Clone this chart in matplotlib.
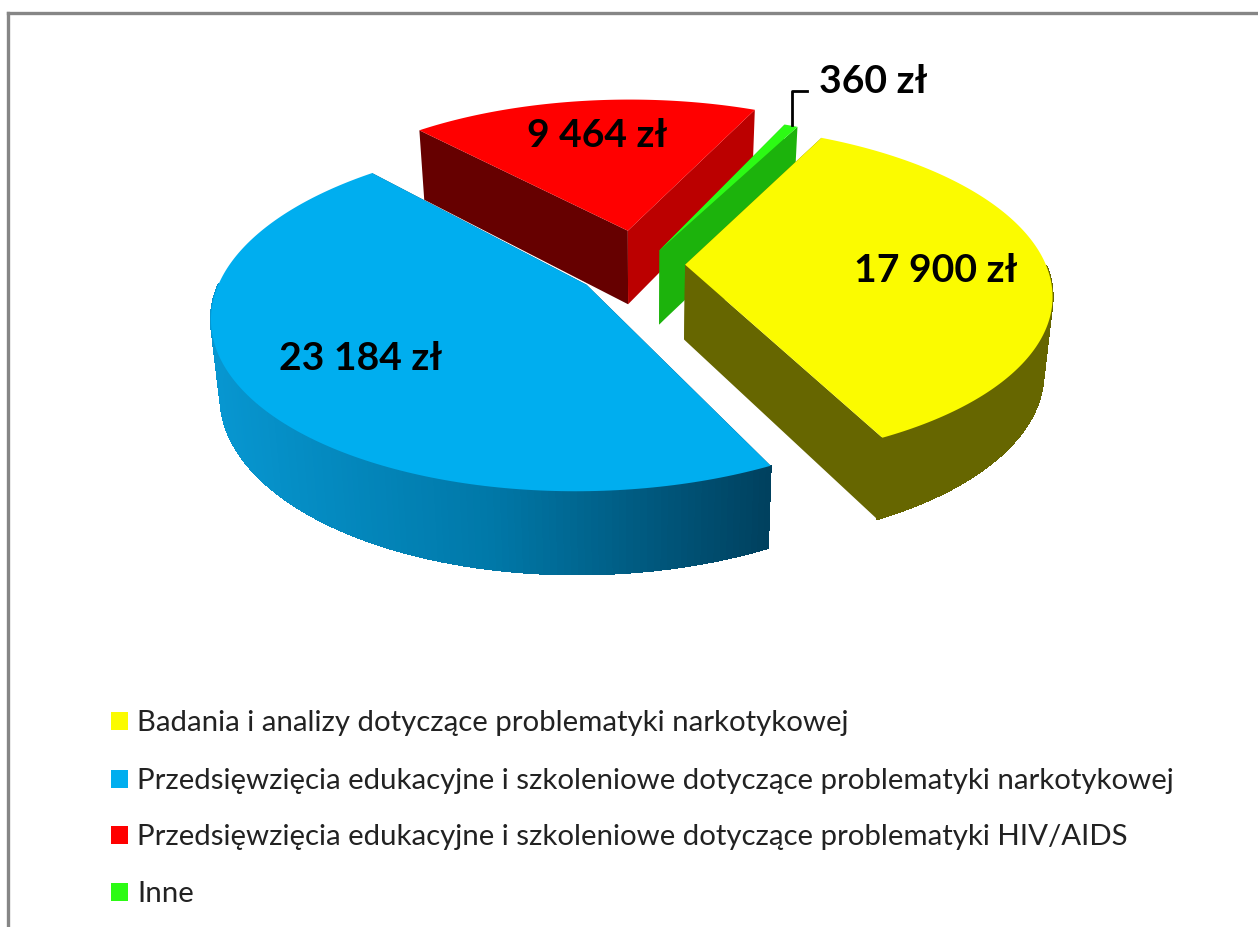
import numpy as np
import matplotlib
matplotlib.use("Agg")
import matplotlib.pyplot as plt
from matplotlib.patches import Polygon, Rectangle
from matplotlib.collections import PolyCollection
from matplotlib.colors import to_rgb

categories = ["Badania i analizy dotyczące problematyki narkotykowej",
              "Przedsięwzięcia edukacyjne i szkoleniowe dotyczące problematyki narkotykowej",
              "Przedsięwzięcia edukacyjne i szkoleniowe dotyczące problematyki HIV/AIDS",
              "Inne"]
values = [17900, 23184, 9464, 360]
top_colors = ["#FBFB00", "#00AEEF", "#FF0000", "#2CFB14"]
start_cut_colors = ["#666600", "#004060", "#660000", "#1CB30C"]
end_cut_colors = ["#666600", "#004060", "#BB0000", "#1CB30C"]
rim_colors = ["#666600", "#004060", "#660000", "#1CB30C"]
explode = [(0.125, 0.02), (-0.145, -0.10), (-0.035, 0.235), (0.055, 0.11)]
label_xy = [(936, 268), (361, 356), (597, 132), (873, 78)]

W, H = 1258, 927
CX, CY, A, B, P, DEPTH, KX = 640, 268, 362, 165, 0.17, 75, 0.022
START = 27.0

def project(u, v, drop=0.0):
    w = 1 + P * v
    return (CX + A * u / w * (1 - KX * drop / DEPTH), CY - B * v / w + drop / np.sqrt(w))

fig = plt.figure(figsize=(W / 100, H / 100), dpi=100)
ax = fig.add_axes([0, 0, 1, 1])
ax.set_xlim(0, W)
ax.set_ylim(H, 0)
ax.axis("off")
plt.rcParams["font.family"] = ["Lato", "DejaVu Sans"]

ax.plot([8, 8], [927, 12.5], color="#868686", lw=2.4, solid_capstyle="projecting")
ax.plot([8, W], [12.5, 12.5], color="#868686", lw=2.4, solid_capstyle="projecting")

fracs = np.array(values) / sum(values)
edges = START + 360 * np.concatenate([[0], np.cumsum(fracs)])
draw_order = [2, 3, 0, 1]

for i in draw_order:
    th = np.radians(np.linspace(edges[i], edges[i + 1], 181))
    ox, oy = explode[i]
    u = ox + np.sin(th)
    v = oy + np.cos(th)
    rx, ry = project(u, v)
    bx, by = project(u, v, DEPTH)
    ax0, ay0 = project(ox, oy)
    ax1, ay1 = project(ox, oy, DEPTH)
    # radial cut faces
    ax.add_patch(Polygon([(ax0, ay0), (rx[0], ry[0]), (bx[0], by[0]), (ax1, ay1)],
                         fc=start_cut_colors[i], ec="none"))
    ax.add_patch(Polygon([(ax0, ay0), (rx[-1], ry[-1]), (bx[-1], by[-1]), (ax1, ay1)],
                         fc=end_cut_colors[i], ec="none"))
    # outer rim: only the part that faces the viewer
    front = [k for k in range(len(th) - 1) if np.cos(th[k]) < 0.0]
    quads = [[(rx[k], ry[k]), (rx[k + 1], ry[k + 1]), (bx[k + 1], by[k + 1]), (bx[k], by[k])]
             for k in front]
    if i == 1:
        c0, c1, c2 = map(np.array, map(to_rgb, ["#0796D0", "#0078A8", "#00415F"]))
        cols = []
        for k in front:
            t = np.clip((rx[k] - 215) / (770 - 215), 0, 1)
            cols.append(tuple(c0 + (c1 - c0) * t / 0.5) if t < 0.5
                        else tuple(c1 + (c2 - c1) * (t - 0.5) / 0.5))
    else:
        cols = [rim_colors[i]] * len(quads)
    if quads:
        ax.add_collection(PolyCollection(quads, facecolors=cols, edgecolors=cols,
                                         linewidths=0.8, antialiaseds=False))
    ax.add_patch(Polygon(np.column_stack([np.r_[ax0, rx], np.r_[ay0, ry]]),
                         fc=top_colors[i], ec="none"))

for val, (x, y) in zip(values, label_xy):
    ax.text(x, y, f"{val:,}".replace(",", " ") + " zł", ha="center", va="center_baseline",
            fontsize=28.2, fontweight="bold", color="black")
ax.plot([792, 792, 807], [125, 91, 91], color="black", lw=2)

legend_y = [720, 778, 834, 891]
for name, col, y in zip(categories, top_colors, legend_y):
    ax.add_patch(Rectangle((111, y - 8), 17, 18, fc=col, ec="none"))
    ax.text(137, y, name, ha="left", va="center_baseline", fontsize=21.2, color="#222222")

fig.savefig("out.png", dpi=100)
